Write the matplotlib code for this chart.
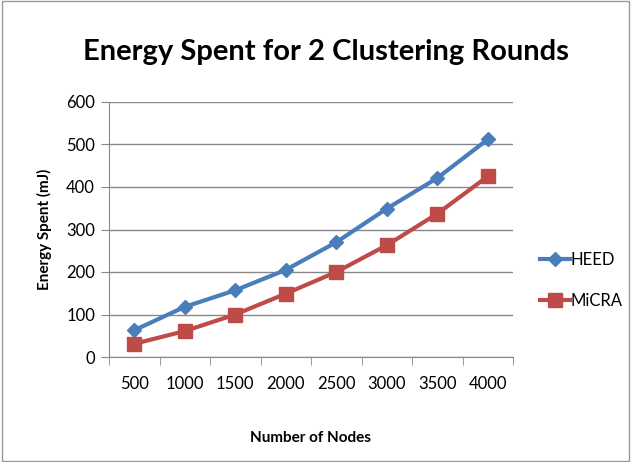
import numpy as np
import matplotlib.pyplot as plt
from matplotlib.patches import Rectangle

nodes = ["500", "1000", "1500", "2000", "2500", "3000", "3500", "4000"]
heed = [63, 118, 157, 205, 270, 349, 421, 512]
micra = [31, 61, 100, 149, 200, 263, 337, 425]

plt.rcParams['font.family'] = ['Lato', 'DejaVu Sans']

fig = plt.figure(figsize=(6.33, 4.62), dpi=100)
ax = fig.add_axes([109 / 633, 1 - 357 / 462, 404 / 633, 255 / 462])

x = np.arange(len(nodes))
ax.plot(x, heed, color="#4A7EBB", lw=3, marker="D", ms=7, label="HEED")
ax.plot(x, micra, color="#BE4B48", lw=3, marker="s", ms=10, label="MiCRA")

ax.set_xlim(-0.5, len(nodes) - 0.5)
ax.set_ylim(0, 600)
ax.set_yticks(np.arange(0, 601, 100))
ax.set_xticks(x)
ax.set_xticklabels(nodes)
ax.set_xticks(np.arange(-0.5, len(nodes)), minor=True)
ax.tick_params(axis="x", which="major", length=0, pad=14, labelsize=12)
ax.tick_params(axis="x", which="minor", length=6, color="#888888")
ax.tick_params(axis="y", length=6, color="#888888", labelsize=12, pad=4)
ax.grid(axis="y", color="#888888", lw=1)
ax.set_axisbelow(True)
for s in ["top", "right"]:
    ax.spines[s].set_visible(False)
for s in ["left", "bottom"]:
    ax.spines[s].set_color("#888888")

ax.set_xlabel("Number of Nodes", fontsize=11, fontweight="bold", labelpad=28)
ax.set_ylabel("Energy Spent (mJ)", fontsize=11, fontweight="bold", labelpad=10)
fig.text(0.515, 1 - 52 / 462, "Energy Spent for 2 Clustering Rounds",
         ha="center", va="center", fontsize=21, fontweight="bold")

ax.legend(loc="center left", bbox_to_anchor=(1.03, 0.3), frameon=False,
          fontsize=12, labelspacing=1.5, handlelength=1.8, handletextpad=0.05)

fig.patches.append(Rectangle((0.003, 0.003), 0.99, 0.994, transform=fig.transFigure,
                             fill=False, edgecolor="#999999", lw=1))

fig.savefig("out.png", dpi=100)
